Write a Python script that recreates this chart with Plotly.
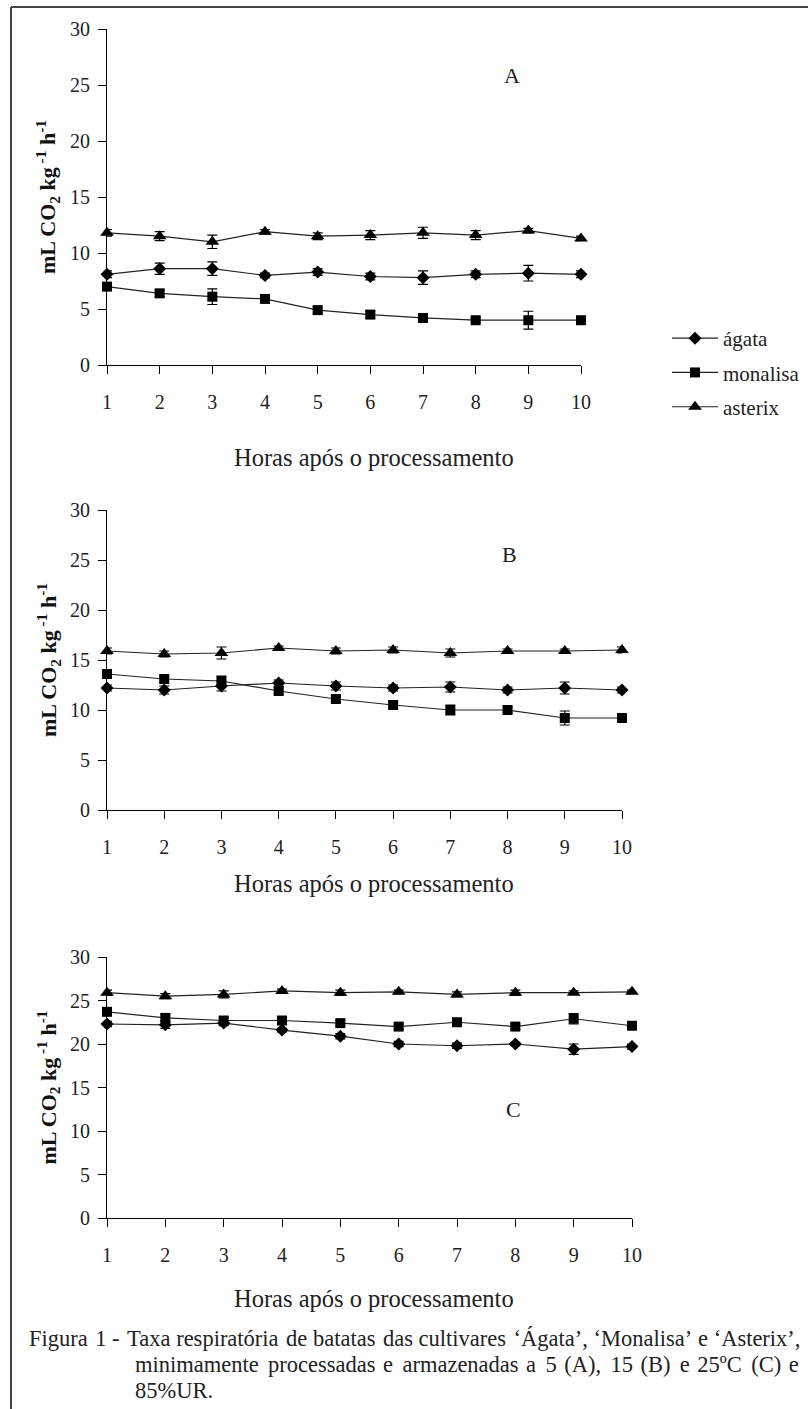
import plotly.graph_objects as go

W, H = 808, 1409
hours = [1, 2, 3, 4, 5, 6, 7, 8, 9, 10]
series_names = ["ágata", "monalisa", "asterix"]

# Panel A (5 ºC)
agata_A = [8.1, 8.6, 8.6, 8.0, 8.3, 7.9, 7.8, 8.1, 8.2, 8.1]
agata_A_err = [0.3, 0.5, 0.6, 0.2, 0.3, 0.3, 0.6, 0.3, 0.7, 0.3]
monalisa_A = [7.0, 6.4, 6.1, 5.9, 4.9, 4.5, 4.2, 4.0, 4.0, 4.0]
monalisa_A_err = [0.3, 0.3, 0.7, 0.3, 0.3, 0.3, 0.4, 0.2, 0.8, 0.2]
asterix_A = [11.8, 11.5, 11.0, 11.9, 11.5, 11.6, 11.8, 11.6, 12.0, 11.3]
asterix_A_err = [0.3, 0.4, 0.6, 0.2, 0.3, 0.4, 0.5, 0.4, 0.2, 0.2]

# Panel B (15 ºC)
agata_B = [12.2, 12.0, 12.4, 12.7, 12.4, 12.2, 12.3, 12.0, 12.2, 12.0]
agata_B_err = [0.3, 0.4, 0.5, 0.3, 0.4, 0.3, 0.5, 0.3, 0.6, 0.3]
monalisa_B = [13.6, 13.1, 12.9, 11.9, 11.1, 10.5, 10.0, 10.0, 9.2, 9.2]
monalisa_B_err = [0.4, 0.3, 0.5, 0.3, 0.3, 0.2, 0.5, 0.3, 0.7, 0.2]
asterix_B = [15.9, 15.6, 15.7, 16.2, 15.9, 16.0, 15.7, 15.9, 15.9, 16.0]
asterix_B_err = [0.3, 0.3, 0.6, 0.2, 0.3, 0.3, 0.4, 0.2, 0.2, 0.3]

# Panel C (25 ºC)
agata_C = [22.3, 22.2, 22.4, 21.6, 20.9, 20.0, 19.8, 20.0, 19.4, 19.7]
agata_C_err = [0.3, 0.4, 0.3, 0.2, 0.3, 0.3, 0.3, 0.2, 0.6, 0.3]
monalisa_C = [23.7, 23.0, 22.7, 22.7, 22.4, 22.0, 22.5, 22.0, 22.9, 22.1]
monalisa_C_err = [0.4, 0.4, 0.4, 0.3, 0.3, 0.3, 0.3, 0.3, 0.6, 0.3]
asterix_C = [25.9, 25.5, 25.7, 26.1, 25.9, 26.0, 25.7, 25.9, 25.9, 26.0]
asterix_C_err = [0.3, 0.3, 0.4, 0.2, 0.3, 0.2, 0.3, 0.3, 0.2, 0.2]

y_ticks = [0, 5, 10, 15, 20, 25, 30]
x_title = "Horas após o processamento"
y_title = "mL CO<sub>2</sub> kg<sup> -1</sup> h<sup>-1</sup>"
panel_letters = ["A", "B", "C"]
caption_lines = [
    "Figura 1 - Taxa respiratória de batatas das cultivares ‘Ágata’, ‘Monalisa’ e ‘Asterix’,",
    "minimamente processadas e armazenadas a 5 (A), 15 (B) e 25ºC (C) e",
    "85%UR.",
]

FONT = "Liberation Serif, Times New Roman, serif"
symbols = ["diamond", "square", "triangle-up"]
msizes = [10, 10, 12]

panels = [
    dict(data=[(agata_A, agata_A_err), (monalisa_A, monalisa_A_err), (asterix_A, asterix_A_err)],
         x0=107, x1=581, ytop=29, ybot=365, letter=(512, 75), title_y=458),
    dict(data=[(agata_B, agata_B_err), (monalisa_B, monalisa_B_err), (asterix_B, asterix_B_err)],
         x0=107, x1=622, ytop=510, ybot=810, letter=(509, 554), title_y=883),
    dict(data=[(agata_C, agata_C_err), (monalisa_C, monalisa_C_err), (asterix_C, asterix_C_err)],
         x0=107, x1=632, ytop=957, ybot=1218, letter=(513, 1109), title_y=1298),
]

def px(x):
    return x / W

def py(y):
    return 1 - y / H

def stretch(line, base, extra_every):
    # mimic justified text by adding hair spaces after word gaps
    words = line.split(" ")
    out = words[0]
    for k, w in enumerate(words[1:]):
        sep = " " + "\u200a" * base
        if extra_every and k % extra_every == 0:
            sep += "\u200a"
        out += sep + w
    return out

fig = go.Figure()
annotations = []
for i, p in enumerate(panels):
    sfx = "" if i == 0 else str(i + 1)
    for j, (vals, err) in enumerate(p["data"]):
        fig.add_trace(go.Scatter(
            x=hours, y=vals, name=series_names[j],
            mode="lines+markers",
            line=dict(color="#222222", width=1.2),
            marker=dict(symbol=symbols[j], size=msizes[j], color="black"),
            error_y=dict(type="data", array=err, visible=True, color="black",
                         thickness=1.2, width=5),
            xaxis="x" + sfx, yaxis="y" + sfx,
            showlegend=(i == 0), legendgroup=series_names[j],
            cliponaxis=False,
        ))
    axis_common = dict(showline=True, linecolor="black", linewidth=1.2,
                       ticks="outside", ticklen=8, tickwidth=1.2, tickcolor="black",
                       showgrid=False, zeroline=False,
                       tickfont=dict(family=FONT, size=20, color="#222222"))
    fig.update_layout(**{
        "xaxis" + sfx: dict(domain=[px(p["x0"]), px(p["x1"])], range=[1, 10],
                            tickmode="array", tickvals=hours,
                            anchor="y" + sfx, ticklabelstandoff=11, **axis_common),
        "yaxis" + sfx: dict(domain=[py(p["ybot"]), py(p["ytop"])], range=[0, 30],
                            tickmode="array", tickvals=y_ticks,
                            anchor="x" + sfx, ticklabelstandoff=4, **axis_common),
    })
    ymid = (p["ytop"] + p["ybot"]) / 2
    annotations.append(dict(x=px(48), y=py(ymid), xref="paper", yref="paper",
                            text="<b>" + y_title + "</b>", textangle=-90, showarrow=False,
                            font=dict(family=FONT, size=22, color="#111111"),
                            xanchor="center", yanchor="middle"))
    annotations.append(dict(x=px(374), y=py(p["title_y"]), xref="paper", yref="paper",
                            text=x_title, showarrow=False,
                            font=dict(family=FONT, size=24.5, color="#222222"),
                            xanchor="center", yanchor="middle"))
    lx, ly = p["letter"]
    annotations.append(dict(x=px(lx), y=py(ly), xref="paper", yref="paper",
                            text=panel_letters[i], showarrow=False,
                            font=dict(family=FONT, size=22, color="#222222"),
                            xanchor="center", yanchor="middle"))

cap_text = [
    stretch(caption_lines[0], 0, 2),
    stretch(caption_lines[1], 1, 2),
    caption_lines[2],
]
cap_pos = [(27, 1338), (133, 1364), (133, 1390)]
for (cx, cy), line in zip(cap_pos, cap_text):
    annotations.append(dict(x=px(cx), y=py(cy), xref="paper", yref="paper",
                            text=line, showarrow=False,
                            font=dict(family=FONT, size=22.5, color="#222222"),
                            xanchor="left", yanchor="middle"))

shapes = [
    dict(type="line", xref="paper", yref="paper", x0=px(11), x1=1, y0=py(7), y1=py(7),
         line=dict(color="#444444", width=2)),
    dict(type="line", xref="paper", yref="paper", x0=px(11), x1=px(11), y0=py(7), y1=0,
         line=dict(color="#444444", width=2)),
]

fig.update_layout(
    width=W, height=H,
    margin=dict(l=0, r=0, t=0, b=0, autoexpand=False),
    paper_bgcolor="white", plot_bgcolor="white",
    annotations=annotations, shapes=shapes,
    legend=dict(x=px(667), y=py(318), xanchor="left", yanchor="top",
                font=dict(family=FONT, size=21, color="#222222"),
                itemwidth=46, tracegroupgap=4, traceorder="grouped",
                bgcolor="rgba(0,0,0,0)"),
)

fig.write_html("out.html", config={"displayModeBar": False},
               post_script="document.body.style.margin='0';document.body.style.overflow='hidden';")
